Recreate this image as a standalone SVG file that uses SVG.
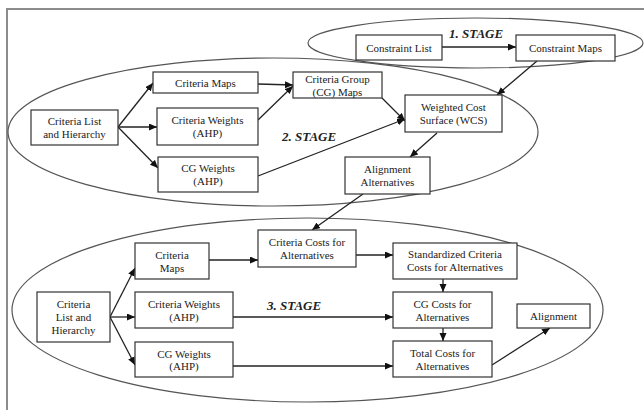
<svg xmlns="http://www.w3.org/2000/svg" width="644" height="410" viewBox="0 0 644 410">
<defs>
<style>
.box{fill:#fff;stroke:#333;stroke-width:1.2}
.ell{fill:none;stroke:#555;stroke-width:1.2}
.lbl{font-family:"Liberation Serif","Times New Roman",serif;font-size:11px;fill:#222;text-anchor:middle}
.stg{font-family:"Liberation Serif","Times New Roman",serif;font-size:13px;font-weight:bold;font-style:italic;fill:#222}
.con{fill:none;stroke:#222;stroke-width:1.3;marker-end:url(#ah)}
</style>
<marker id="ah" markerUnits="userSpaceOnUse" markerWidth="9" markerHeight="8" refX="8" refY="3.5" orient="auto">
<path d="M0,0 L8,3.5 L0,7 z" fill="#111"/>
</marker>
</defs>
<rect x="0" y="0" width="644" height="410" fill="#fff"/>
<rect x="7" y="9" width="700" height="500" fill="none" stroke="#8c8c8c" stroke-width="2"/>
<g id="stages">
<ellipse class="ell" cx="475.5" cy="43" rx="167.5" ry="25"/>
<ellipse class="ell" cx="273" cy="132" rx="265" ry="74"/>
<ellipse class="ell" cx="307.5" cy="310" rx="295.5" ry="92"/>
<text class="stg" x="449" y="38">1. STAGE</text>
<text class="stg" x="282" y="141">2. STAGE</text>
<text class="stg" x="267" y="310">3. STAGE</text>
</g>
<g id="connectors">
<path class="con" d="M442,47 L516,47"/>
<path class="con" d="M537,61 L497,95"/>
<path class="con" d="M118,127 L153,83"/>
<path class="con" d="M118,127 L157,127"/>
<path class="con" d="M118,127 L158,168"/>
<path class="con" d="M258,84 L293,85"/>
<path class="con" d="M258,120 L293,86"/>
<path class="con" d="M382,98 L405,121"/>
<path class="con" d="M258,176 L405,119"/>
<path class="con" d="M437,133 L410,157"/>
<path class="con" d="M363,194 L312,230"/>
<path class="con" d="M110,317 L135,268"/>
<path class="con" d="M110,317 L135,317"/>
<path class="con" d="M110,317 L135,365"/>
<path class="con" d="M209,260 L258,260"/>
<path class="con" d="M356,255 L393,255"/>
<path class="con" d="M443,279 L443,292"/>
<path class="con" d="M233,317 L393,317"/>
<path class="con" d="M443,328 L443,341"/>
<path class="con" d="M233,366 L393,366"/>
<path class="con" d="M492,365 L550,328"/>
</g>
<g id="constraint-list"><rect class="box" x="356" y="35" width="86" height="25"/><text class="lbl" x="399" y="51.5">Constraint List</text></g>
<g id="constraint-maps"><rect class="box" x="516" y="35" width="99" height="26"/><text class="lbl" x="565.5" y="52">Constraint Maps</text></g>
<g id="criteria-list-2"><rect class="box" x="31" y="110" width="87" height="35"/><text class="lbl" x="74.5" y="125">Criteria List</text><text class="lbl" x="74.5" y="138">and Hierarchy</text></g>
<g id="criteria-maps-2"><rect class="box" x="153" y="72" width="105" height="21"/><text class="lbl" x="205.5" y="86.5">Criteria Maps</text></g>
<g id="criteria-weights-2"><rect class="box" x="157" y="108" width="101" height="37"/><text class="lbl" x="207.5" y="124">Criteria Weights</text><text class="lbl" x="207.5" y="137">(AHP)</text></g>
<g id="cg-weights-2"><rect class="box" x="158" y="157" width="100" height="35"/><text class="lbl" x="208" y="172">CG Weights</text><text class="lbl" x="208" y="185">(AHP)</text></g>
<g id="cg-maps"><rect class="box" x="293" y="72" width="89" height="26"/><text class="lbl" x="337.5" y="82.5">Criteria Group</text><text class="lbl" x="337.5" y="95.5">(CG) Maps</text></g>
<g id="wcs"><rect class="box" x="405" y="95" width="97" height="37"/><text class="lbl" x="453.5" y="111">Weighted Cost</text><text class="lbl" x="453.5" y="124">Surface (WCS)</text></g>
<g id="alignment-alternatives"><rect class="box" x="345" y="157" width="85" height="37"/><text class="lbl" x="387.5" y="173">Alignment</text><text class="lbl" x="387.5" y="186">Alternatives</text></g>
<g id="criteria-list-3"><rect class="box" x="37" y="292" width="73" height="50"/><text class="lbl" x="73.5" y="308">Criteria</text><text class="lbl" x="73.5" y="321">List and</text><text class="lbl" x="73.5" y="334">Hierarchy</text></g>
<g id="criteria-maps-3"><rect class="box" x="135" y="243" width="74" height="36"/><text class="lbl" x="172" y="259">Criteria</text><text class="lbl" x="172" y="272">Maps</text></g>
<g id="criteria-weights-3"><rect class="box" x="135" y="292" width="98" height="36"/><text class="lbl" x="184" y="308">Criteria Weights</text><text class="lbl" x="184" y="321">(AHP)</text></g>
<g id="cg-weights-3"><rect class="box" x="135" y="342" width="98" height="35"/><text class="lbl" x="184" y="358">CG Weights</text><text class="lbl" x="184" y="370">(AHP)</text></g>
<g id="criteria-costs"><rect class="box" x="258" y="230" width="98" height="37"/><text class="lbl" x="307" y="246">Criteria Costs for</text><text class="lbl" x="307" y="259">Alternatives</text></g>
<g id="standardized-costs"><rect class="box" x="393" y="243" width="124" height="36"/><text class="lbl" x="455" y="258">Standardized Criteria</text><text class="lbl" x="455" y="271">Costs for Alternatives</text></g>
<g id="cg-costs"><rect class="box" x="393" y="292" width="99" height="36"/><text class="lbl" x="442.5" y="308">CG Costs for</text><text class="lbl" x="442.5" y="321">Alternatives</text></g>
<g id="total-costs"><rect class="box" x="393" y="341" width="99" height="36"/><text class="lbl" x="442.5" y="357">Total Costs for</text><text class="lbl" x="442.5" y="370">Alternatives</text></g>
<g id="alignment"><rect class="box" x="517" y="304" width="73" height="24"/><text class="lbl" x="553.5" y="320">Alignment</text></g>
</svg>
